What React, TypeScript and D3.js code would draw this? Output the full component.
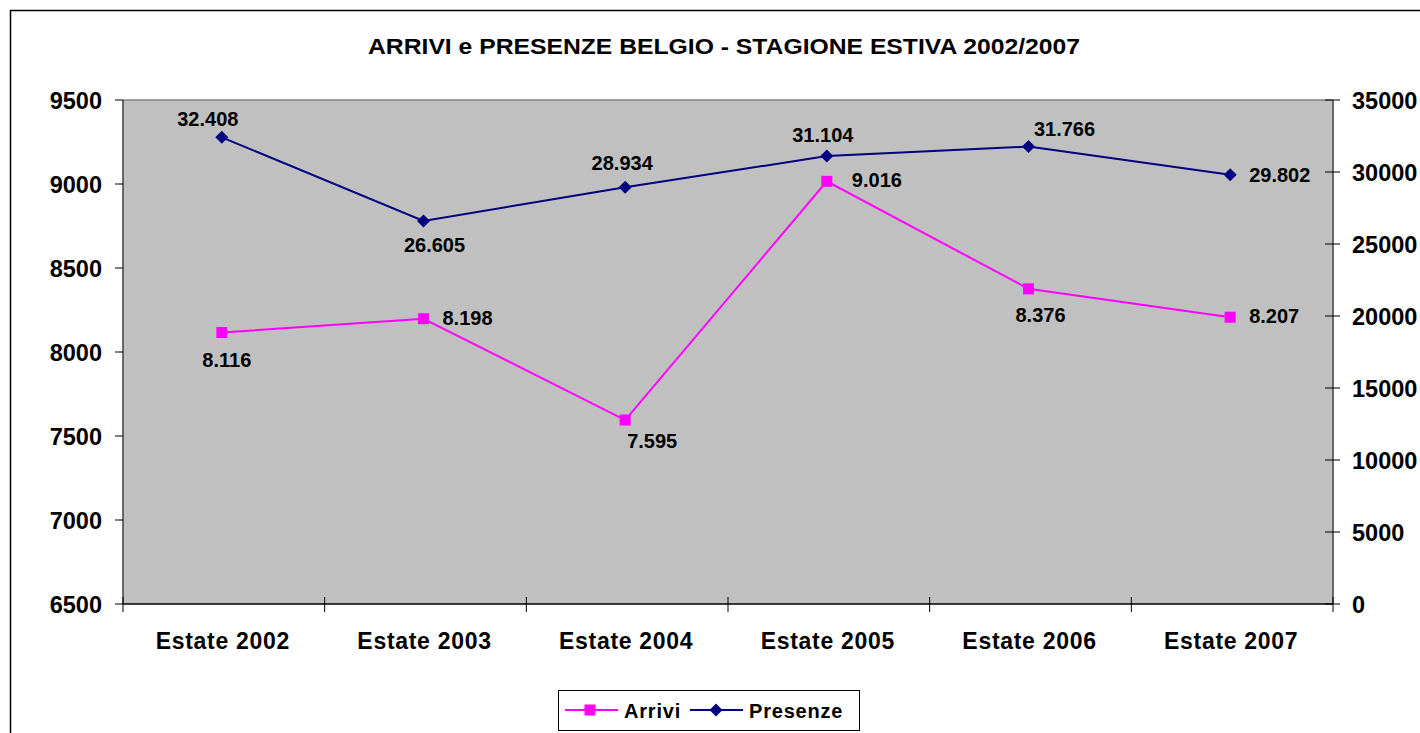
import React from "react";
import * as d3 from "d3";

const categories = ["Estate 2002", "Estate 2003", "Estate 2004", "Estate 2005", "Estate 2006", "Estate 2007"];
const arrivi = [8116, 8198, 7595, 9016, 8376, 8207];
const presenze = [32408, 26605, 28934, 31104, 31766, 29802];
const leftTicks = [6500, 7000, 7500, 8000, 8500, 9000, 9500];
const rightTicks = [0, 5000, 10000, 15000, 20000, 25000, 30000, 35000];
const title = "ARRIVI e PRESENZE BELGIO - STAGIONE ESTIVA 2002/2007";

// label placement offsets (styling)
const arriviLabelPos = [
  { dx: 5, dy: 34, anchor: "middle" },
  { dx: 19, dy: 6, anchor: "start" },
  { dx: 27, dy: 28, anchor: "middle" },
  { dx: 25, dy: 6, anchor: "start" },
  { dx: 12, dy: 33, anchor: "middle" },
  { dx: 19, dy: 6, anchor: "start" },
];
const presenzeLabelPos = [
  { dx: -14, dy: -11, anchor: "middle" },
  { dx: 11, dy: 31, anchor: "middle" },
  { dx: -3, dy: -17, anchor: "middle" },
  { dx: -4, dy: -14, anchor: "middle" },
  { dx: 36, dy: -11, anchor: "middle" },
  { dx: 19, dy: 7, anchor: "start" },
];

const fmt = (v: number) => d3.format(",")(v).replace(/,/g, ".");

export default function App() {
  const W = 1420, H = 733;
  const L = 123, R = 1333, T = 100, B = 604;
  const x = d3.scaleBand<string>().domain(categories).range([L, R]);
  const cx = (c: string) => (x(c) as number) + x.bandwidth() / 2 - 2;
  const yL = d3.scaleLinear().domain([6500, 9500]).range([B, T]);
  const yR = d3.scaleLinear().domain([0, 35000]).range([B, T]);
  const lineA = d3.line<number>().x((_, i) => cx(categories[i])).y((d) => yL(d));
  const lineP = d3.line<number>().x((_, i) => cx(categories[i])).y((d) => yR(d));
  const font = "Liberation Sans, Arial, sans-serif";
  const magenta = "#FF00FF";
  const navy = "#000080";
  const square = (px: number, py: number, key: any) => (
    <rect key={key} x={px - 5.5} y={py - 5.5} width={11} height={11} fill={magenta} />
  );
  const diamond = (px: number, py: number, key: any) => (
    <path key={key} d={`M${px},${py - 6.5}L${px + 6.5},${py}L${px},${py + 6.5}L${px - 6.5},${py}Z`} fill={navy} />
  );
  return (
    <svg width={W} height={H} style={{ position: "absolute", left: 0, top: 0 }} fontFamily={font}>
      <rect x={0} y={0} width={W} height={H} fill="#fff" />
      <rect x={10.5} y={10.5} width={1440} height={760} fill="none" stroke="#000" strokeWidth={1.5} />
      <text x={368} y={54} fontSize={22} fontWeight="bold" textLength={712} lengthAdjust="spacingAndGlyphs">{title}</text>
      <rect x={L} y={T} width={R - L} height={B - T} fill="#C0C0C0" />
      <line x1={L} x2={R} y1={T} y2={T} stroke="#808080" strokeWidth={1.5} />
      <line x1={L} x2={L} y1={T} y2={B} stroke="#404040" strokeWidth={1.5} />
      <line x1={R} x2={R} y1={T} y2={B} stroke="#404040" strokeWidth={1.5} />
      <line x1={L} x2={R} y1={B} y2={B} stroke="#000" strokeWidth={1.5} />
      {leftTicks.map((t) => (
        <g key={"l" + t}>
          <line x1={L - 8} x2={L} y1={yL(t)} y2={yL(t)} stroke="#000" />
          <text x={102} y={yL(t) + 8.5} textAnchor="end" fontSize={23.5} fontWeight="bold">{t}</text>
        </g>
      ))}
      {rightTicks.map((t) => (
        <g key={"r" + t}>
          <line x1={R - 8} x2={R + 7} y1={yR(t)} y2={yR(t)} stroke="#000" />
          <text x={1352} y={yR(t) + 8.5} textAnchor="start" fontSize={23.5} fontWeight="bold">{t}</text>
        </g>
      ))}
      {categories.map((c, i) => (
        <g key={c}>
          <line x1={x(c) as number} x2={x(c) as number} y1={B - 7} y2={B + 8} stroke="#000" />
          {i === categories.length - 1 && <line x1={R} x2={R} y1={B - 7} y2={B + 8} stroke="#000" />}
          <text x={cx(c) + 1} y={649} textAnchor="middle" fontSize={23} fontWeight="bold" letterSpacing={0.7}>{c}</text>
        </g>
      ))}
      <path d={lineP(presenze) as string} fill="none" stroke={navy} strokeWidth={2} />
      <path d={lineA(arrivi) as string} fill="none" stroke={magenta} strokeWidth={2} />
      {presenze.map((v, i) => diamond(cx(categories[i]), yR(v), "pd" + i))}
      {arrivi.map((v, i) => square(cx(categories[i]), yL(v), "as" + i))}
      {presenze.map((v, i) => (
        <text key={"pl" + i} x={cx(categories[i]) + presenzeLabelPos[i].dx} y={yR(v) + presenzeLabelPos[i].dy}
          textAnchor={presenzeLabelPos[i].anchor as any} fontSize={20} fontWeight="bold">{fmt(v)}</text>
      ))}
      {arrivi.map((v, i) => (
        <text key={"al" + i} x={cx(categories[i]) + arriviLabelPos[i].dx} y={yL(v) + arriviLabelPos[i].dy}
          textAnchor={arriviLabelPos[i].anchor as any} fontSize={20} fontWeight="bold">{fmt(v)}</text>
      ))}
      <g>
        <rect x={558.5} y={690.5} width={301} height={40} fill="#fff" stroke="#000" strokeWidth={1} />
        <line x1={565} x2={618} y1={710} y2={710} stroke={magenta} strokeWidth={2} />
        {square(590, 710, "lg1")}
        <text x={624} y={718} fontSize={20} fontWeight="bold" letterSpacing={0.8}>Arrivi</text>
        <line x1={690} x2={743} y1={710} y2={710} stroke={navy} strokeWidth={2} />
        {diamond(716, 710, "lg2")}
        <text x={749} y={718} fontSize={20} fontWeight="bold" letterSpacing={0.8}>Presenze</text>
      </g>
    </svg>
  );
}
